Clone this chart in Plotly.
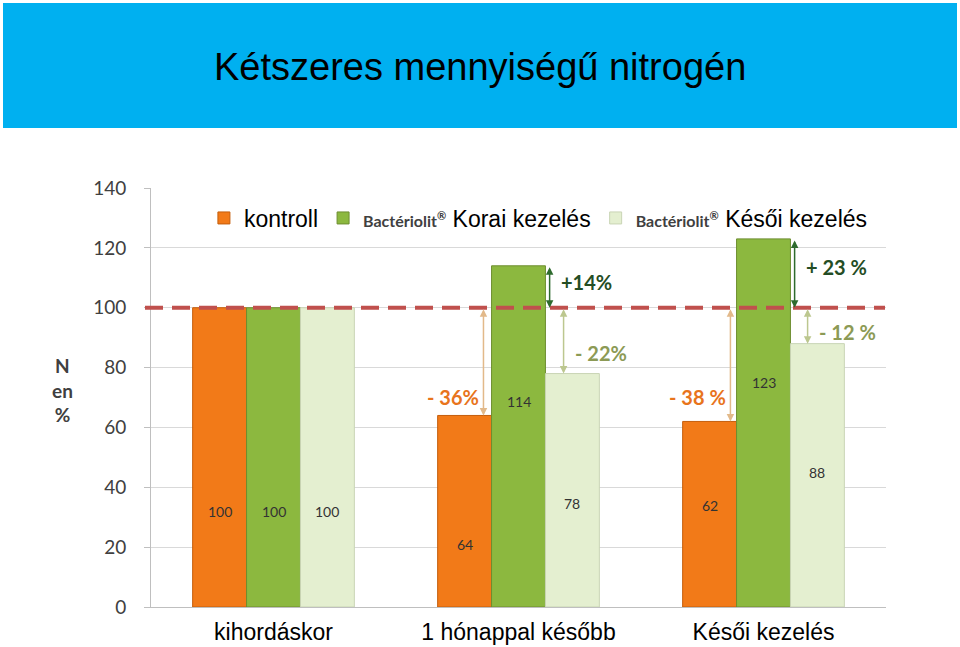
import plotly.graph_objects as go

# ---- data ----
categories = ["kihordáskor", "1 hónappal később", "Késői kezelés"]
kontroll = [100, 64, 62]
korai = [100, 114, 123]
kesoi = [100, 78, 88]
brand = "<span style='font-family:Lato;font-weight:bold;font-size:16px;color:#404040'>Bactériolit<sup>®</sup></span>"
series_names = [
    "kontroll",
    brand + " Korai kezelés",
    brand + " Késői kezelés",
]
y_ticks = [0, 20, 40, 60, 80, 100, 120, 140]
reference_level = 100

# label heights inside bars (data units)
label_y_kontroll = [32, 21, 34]
label_y_korai = [32, 68.5, 75]
label_y_kesoi = [32, 34.7, 44.8]

# change annotations: (category position, from, to, text, arrow colour, text colour, side)
changes = [
    (0.857, 100, 64, "- 36%", "#e2b98a", "#e8741c", -1),
    (1.127, 114, 100, "+14%", "#2e6b2e", "#244d24", 1),
    (1.184, 100, 78, "- 22%", "#bcc78f", "#8c9a55", 1),
    (1.865, 100, 62, "- 38 %", "#e2b98a", "#e8741c", -1),
    (2.127, 123, 100, "+ 23 %", "#2e6b2e", "#244d24", 1),
    (2.180, 100, 88, "- 12 %", "#bcc78f", "#8c9a55", 1),
]
change_text_y = [70.2, 108.6, 84.9, 70.2, 113.6, 91.9]

colors = ["#f27a18", "#8cb83f", "#e4efd0"]
line_colors = ["#c45e0c", "#6e8e30", "#c9d4b5"]

PL, PT, PW, PH = 151, 188, 735, 419  # plot area in pixels


def px_x(x):
    return (x - PL) / PW


def px_y(y):
    return (PT + PH - y) / PH


fig = go.Figure()
for vals, name, c, lc in zip([kontroll, korai, kesoi], series_names, colors, line_colors):
    fig.add_trace(go.Bar(
        x=categories, y=vals, name=name,
        marker=dict(color=c, line=dict(color=lc, width=1)),
    ))

annotations = []
for i, cat in enumerate(categories):
    for off, vals, ly in zip([-1, 0, 1], [kontroll, korai, kesoi],
                             [label_y_kontroll, label_y_korai, label_y_kesoi]):
        annotations.append(dict(
            x=i + off * 0.22, y=ly[i], xref="x", yref="y",
            text=str(vals[i]), showarrow=False,
            font=dict(family="Lato", size=14, color="#333333"),
        ))

for (xp, y0, y1, txt, ac, tc, side), ty in zip(changes, change_text_y):
    annotations.append(dict(
        x=xp, y=y1, ax=xp, ay=y0, xref="x", yref="y", axref="x", ayref="y",
        text="", showarrow=True, arrowhead=2, startarrowhead=2, arrowside="end+start",
        arrowwidth=1.5, arrowcolor=ac, arrowsize=1, startarrowsize=1,
        standoff=0, startstandoff=0,
    ))
    annotations.append(dict(
        x=xp + (0.04 if side > 0 else -0.01), y=ty, xref="x", yref="y",
        xanchor="left" if side > 0 else "right", yanchor="middle",
        text="<b>" + txt + "</b>", showarrow=False,
        font=dict(family="Lato", size=20, color=tc),
    ))

# title
annotations.append(dict(
    x=px_x(480), y=px_y(67), xref="paper", yref="paper", xanchor="center", yanchor="middle",
    text="Kétszeres mennyiségű nitrogén",
    showarrow=False, font=dict(family="Liberation Sans", size=38, color="#000000"),
))
# axis title
annotations.append(dict(
    x=px_x(62), y=px_y(390), xref="paper", yref="paper", xanchor="center", yanchor="middle",
    text="<b>N<br>en<br>%</b>",
    showarrow=False, font=dict(family="Lato", size=19, color="#404040"),
))

shapes = [
    dict(type="rect", xref="paper", yref="paper",
         x0=px_x(3), x1=px_x(957), y0=px_y(128), y1=px_y(3),
         fillcolor="#00b0f0", line=dict(width=0), layer="below"),
    dict(type="line", xref="paper", yref="y", x0=px_x(145), x1=px_x(885),
         y0=reference_level, y1=reference_level,
         line=dict(color="#c0504d", width=4, dash="18px,9px"), layer="above"),
]

fig.update_layout(
    width=960, height=647,
    margin=dict(l=PL, r=960 - PL - PW, t=PT, b=647 - PT - PH),
    paper_bgcolor="white", plot_bgcolor="white",
    barmode="group", bargap=0.34, bargroupgap=0,
    showlegend=True,
    legend=dict(orientation="h", x=0.072, y=px_y(218), xanchor="left", yanchor="middle",
                bgcolor="rgba(0,0,0,0)", font=dict(family="Liberation Sans", size=23, color="#000"),
                itemclick=False),
    annotations=annotations, shapes=shapes,
    xaxis=dict(range=[-0.5, 2.5], showgrid=False, showline=True, linecolor="#bfbfbf",
               tickfont=dict(family="Liberation Sans", size=23, color="#000"),
               ticks="", ticklabelstandoff=4, automargin=False),
    yaxis=dict(range=[0, 140], tickvals=y_ticks, showgrid=True, gridcolor="#d9d9d9",
               showline=True, linecolor="#bfbfbf", ticks="outside", ticklen=6, tickcolor="#bfbfbf",
               zeroline=False, ticklabelstandoff=14, automargin=False,
               tickfont=dict(family="Lato", size=19, color="#404040")),
)

fig.write_html("out.html", post_script="document.body.style.margin='0px';",
               config={"displayModeBar": False})
